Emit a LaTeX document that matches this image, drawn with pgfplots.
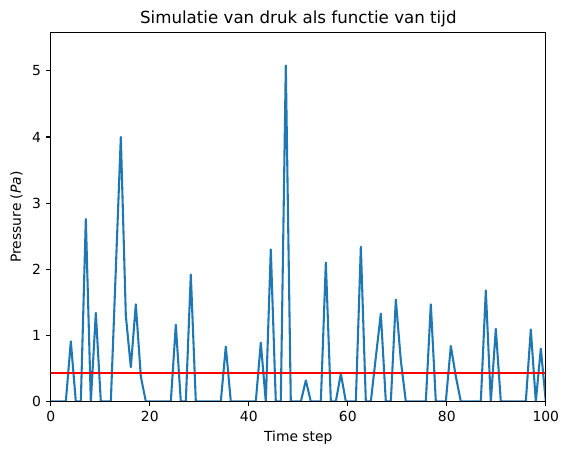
\documentclass[border=0pt]{standalone}
\usepackage{pgfplots}
\pgfplotsset{compat=1.18}
\usepackage{pgfplotstable}
\usepackage{fontspec}
\setmainfont{DejaVu Sans}
\definecolor{mplblue}{RGB}{31,119,180}

\pgfplotstableread{
t p
0 0
1.01 0
2.02 0
3.03 0
4.04 0.91
5.05 0
6.06 0
7.07 2.76
8.08 0
9.09 1.34
10.10 0
11.11 0
12.12 0
13.13 2.00
14.14 4.00
15.15 1.30
16.16 0.52
17.17 1.47
18.18 0.38
19.19 0
20.20 0
21.21 0
22.22 0
23.23 0
24.24 0
25.25 1.16
26.26 0
27.27 0
28.28 1.92
29.29 0
30.30 0
31.31 0
32.32 0
33.33 0
34.34 0
35.35 0.83
36.36 0
37.37 0
38.38 0
39.39 0
40.40 0
41.41 0
42.42 0.89
43.43 0
44.44 2.30
45.45 0
46.46 0
47.47 5.08
48.48 0
49.49 0
50.51 0
51.52 0.32
52.53 0
53.54 0
54.55 0
55.56 2.10
56.57 0
57.58 0
58.59 0.42
59.60 0
60.61 0
61.62 0
62.63 2.34
63.64 0
64.65 0
65.66 0.67
66.67 1.33
67.68 0
68.69 0
69.70 1.54
70.71 0.62
71.72 0
72.73 0
73.74 0
74.75 0
75.76 0
76.77 1.47
77.78 0
78.79 0
79.80 0
80.81 0.84
81.82 0.38
82.83 0
83.84 0
84.85 0
85.86 0
86.87 0
87.88 1.68
88.89 0
89.90 1.10
90.91 0
91.92 0
92.93 0
93.94 0
94.95 0
95.96 0
96.97 1.09
97.98 0
98.99 0.80
100 0
}\pressure

\begin{document}
\begin{tikzpicture}
\begin{axis}[
  scale only axis,
  width=356.4pt, height=265.7pt,
  xmin=0, xmax=100, ymin=0, ymax=5.58,
  xtick={0,20,40,60,80,100},
  ytick={0,1,2,3,4,5},
  xtick pos=bottom, ytick pos=left,
  tick align=outside,
  major tick length=3.5pt,
  tick style={line width=0.8pt, black},
  axis line style={line width=0.8pt},
  axis on top,
  /pgf/number format/assume math mode=true,
  tick label style={font=\fontsize{10}{12}\selectfont},
  label style={font=\fontsize{10}{12}\selectfont},
  title={Simulatie van druk als functie van tijd},
  title style={font=\fontsize{12}{14}\selectfont, yshift=-5.5pt},
  xlabel={Time step},
  ylabel={Pressure (\textit{Pa})},
]
\addplot[mplblue, line width=1.5pt, line join=round] table[x=t, y=p] {\pressure};
\addplot[red, line width=1.5pt] coordinates {(0,0.437) (100,0.437)};
\end{axis}
\pgfresetboundingbox
\path ([shift={(-36.6pt,-38.5pt)}]current axis.south west) rectangle ([shift={(16.7pt,23.4pt)}]current axis.north east);
\end{tikzpicture}
\end{document}
